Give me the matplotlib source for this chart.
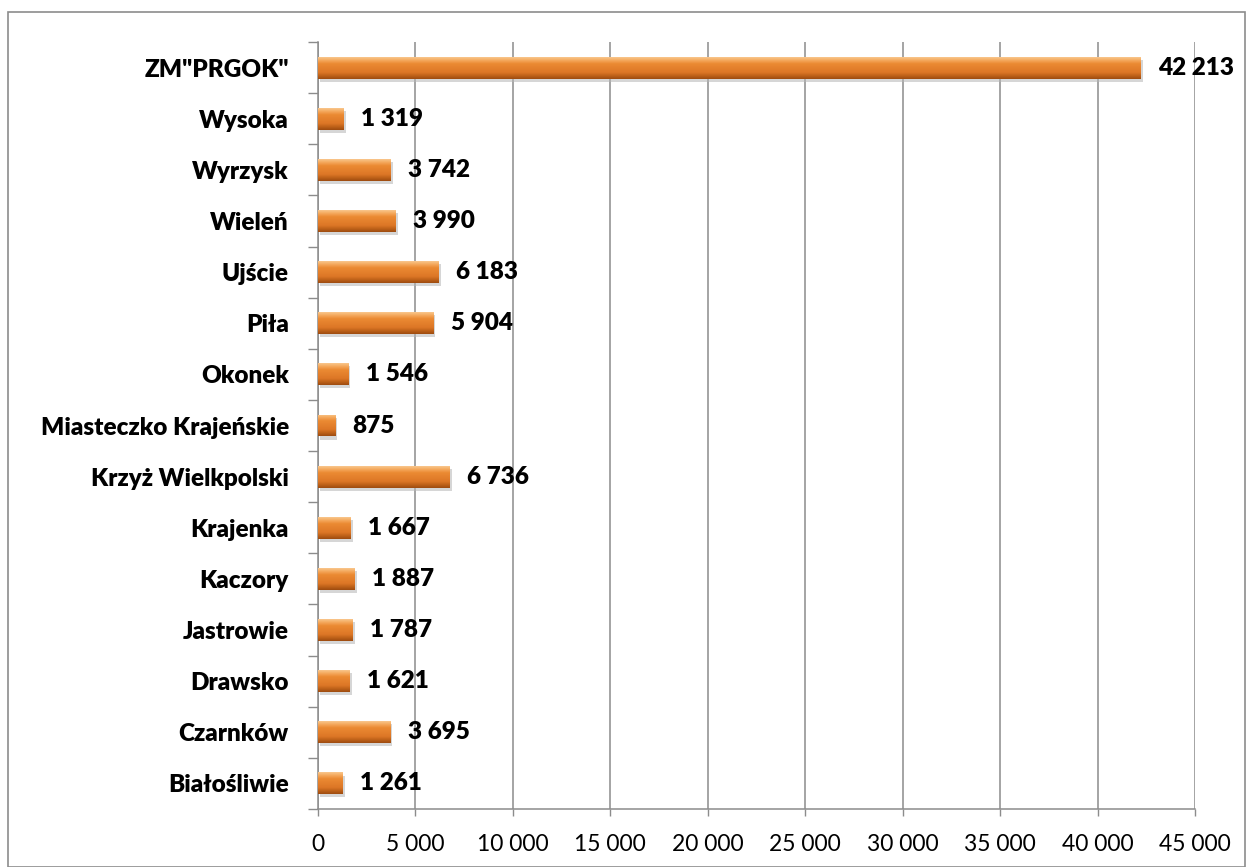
import matplotlib
matplotlib.use("Agg")
import matplotlib.pyplot as plt
import numpy as np
from matplotlib.patches import Rectangle
from matplotlib.colors import LinearSegmentedColormap

plt.rcParams['font.family'] = ['Lato', 'DejaVu Sans']

categories = ["Białośliwie", "Czarnków", "Drawsko", "Jastrowie", "Kaczory", "Krajenka",
              "Krzyż Wielkpolski", "Miasteczko Krajeńskie", "Okonek", "Piła", "Ujście",
              "Wieleń", "Wyrzysk", "Wysoka", 'ZM"PRGOK"']
values = [1261, 3695, 1621, 1787, 1887, 1667, 6736, 875, 1546, 5904, 6183, 3990, 3742, 1319, 42213]
xticks = [0, 5000, 10000, 15000, 20000, 25000, 30000, 35000, 40000, 45000]

def fmt(v):
    return f"{v:,}".replace(",", " ")

fig = plt.figure(figsize=(12.53, 8.67), dpi=100)
fig.patches.append(Rectangle((8/1253, 0), 1 - 16/1253, 1 - 12/867, transform=fig.transFigure,
                             fill=False, edgecolor="#8c8c8c", linewidth=1.2))
ax = fig.add_axes([318/1253, 1 - 809/867, 877/1253, (809 - 42)/867])

ypos = np.arange(len(categories))
bars = ax.barh(ypos, values, height=0.43, color="#E07A26", edgecolor="none", zorder=3)

cmap = LinearSegmentedColormap.from_list("bev", [
    (0.0, "#9E4C10"), (0.15, "#BF6219"), (0.3, "#DD7726"), (0.7, "#EB8A33"),
    (0.85, "#F4A75A"), (1.0, "#F9C68C")])
grad = np.linspace(0, 1, 64).reshape(-1, 1)
for b, v in zip(bars, values):
    x0, y0, w, h = b.get_x(), b.get_y(), b.get_width(), b.get_height()
    sh = Rectangle((x0 + 120, y0 - 0.06), w, h, facecolor="#b5b5b5", alpha=0.55,
                   edgecolor="none", zorder=2)
    ax.add_patch(sh)
    im = ax.imshow(grad, cmap=cmap, aspect="auto", origin="lower",
                   extent=(x0, x0 + w, y0, y0 + h), zorder=4, interpolation="bilinear")
    im.set_clip_path(b)
    ax.text(x0 + w + 900, y0 + h / 2, fmt(v),
            va="center", ha="left", fontsize=17.5, fontweight="heavy", color="black", zorder=5)

ax.set_xlim(0, 45000)
ax.set_ylim(-0.5, len(categories) - 0.5)
ax.set_xticks(xticks)
ax.set_xticklabels([fmt(t) for t in xticks], fontsize=16.5)
ax.set_yticks(ypos)
ax.set_yticklabels(categories, fontsize=17.5, fontweight="heavy")
ax.set_yticks(np.arange(-0.5, len(categories), 1.0), minor=True)
ax.tick_params(axis="y", which="major", length=0, pad=21)
ax.tick_params(axis="y", which="minor", length=7, color="#8c8c8c", width=1)
ax.tick_params(axis="x", which="major", length=5, color="#8c8c8c", width=1, pad=13)
ax.grid(axis="x", color="#8c8c8c", linewidth=1.1, zorder=0)
ax.set_axisbelow(True)
for s in ["top", "right"]:
    ax.spines[s].set_visible(False)
for s in ["left", "bottom"]:
    ax.spines[s].set_color("#8c8c8c")
    ax.spines[s].set_linewidth(1.1)

fig.savefig("out.png", dpi=100)
